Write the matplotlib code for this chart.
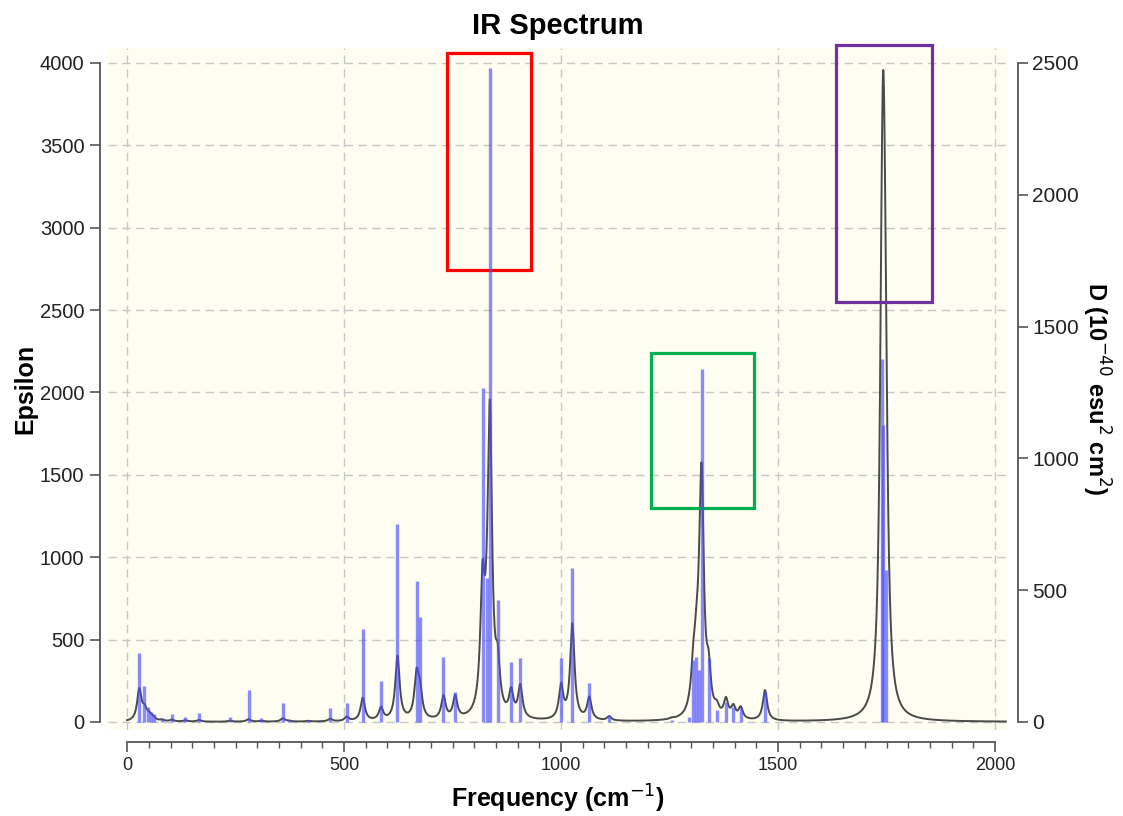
import matplotlib.pyplot as plt
import numpy as np
from matplotlib.patches import Rectangle
from matplotlib.ticker import MultipleLocator

plt.rcParams['font.family'] = ['Liberation Sans', 'DejaVu Sans']

# Stick spectrum: frequency (cm-1) and dipole strength D (10^-40 esu^2 cm^2)
freqs = [28, 40, 49, 55, 61, 80, 103, 134, 166, 237, 280, 309, 359, 373, 417,
         468, 506, 543, 585, 623, 667, 675, 729, 756, 819, 829, 836, 854, 885,
         906, 1000, 1026, 1065, 1111, 1255, 1296, 1305, 1312, 1319, 1324, 1340,
         1359, 1380, 1397, 1414, 1470, 1739, 1743, 1748]
dipole = [262, 136, 57, 38, 31, 15, 31, 19, 34, 19, 121, 15, 72, 8, 8,
          53, 72, 353, 156, 751, 535, 398, 247, 114, 1267, 546, 2481, 463, 228,
          243, 243, 584, 148, 26, 8, 19, 235, 247, 198, 1339, 243,
          46, 76, 57, 53, 114, 1375, 1127, 576]
# Epsilon height of each broadened band
band_eps = [190, 60, 25, 15, 12, 8, 10, 8, 10, 6, 15, 5, 20, 4, 4,
            15, 25, 140, 75, 390, 260, 150, 140, 135, 730, 150, 1780, 260, 150,
            195, 200, 580, 135, 25, 6, 15, 220, 250, 200, 1350, 230,
            50, 110, 70, 70, 185, 1400, 2330, 1100]

hwhm = 6.0  # half-width at half height, cm-1

freqs = np.array(freqs, dtype=float)
dipole = np.array(dipole, dtype=float)
band_eps = np.array(band_eps, dtype=float)

nu = np.linspace(0, 2025, 8000)
lor = hwhm**2 / ((nu[:, None] - freqs[None, :])**2 + hwhm**2)
epsilon = (lor * band_eps[None, :]).sum(axis=1)

fig = plt.figure(figsize=(11.23, 8.16), dpi=100)
ax = fig.add_axes([0.0962, 0.1054, 0.8014, 0.8358])
ax.set_facecolor('#fdfdf2')

ax.plot(nu, epsilon, color='#4a4a4a', lw=1.4, zorder=3)
ax.set_xlim(-44, 2030)
ax.set_ylim(-49, 4091)

ax.grid(True, color='#c8c8c8', linestyle=(0, (6, 4)), lw=1.0)
ax.set_axisbelow(True)
ax.xaxis.set_major_locator(MultipleLocator(500))
ax.xaxis.set_minor_locator(MultipleLocator(50))
ax.yaxis.set_major_locator(MultipleLocator(500))

for s in ['top', 'right']:
    ax.spines[s].set_visible(False)
ax.spines['left'].set_position(('outward', 6))
ax.spines['left'].set_bounds(0, 4000)
ax.spines['bottom'].set_position(('outward', 9))
ax.spines['bottom'].set_bounds(0, 2000)
for s in ['left', 'bottom']:
    ax.spines[s].set_color('#555555')
    ax.spines[s].set_linewidth(1.3)

ax.tick_params(axis='both', which='major', length=7, width=1.2, color='#555555',
               labelcolor='#222222')
ax.tick_params(axis='y', labelsize=14.5, pad=4)
ax.tick_params(axis='x', labelsize=13)
ax.tick_params(axis='x', which='minor', length=4, width=1.0, color='#555555')

ax.set_xlabel('Frequency (cm$^{-1}$)', fontsize=18, fontweight='bold', labelpad=6)
ax.set_ylabel('Epsilon', fontsize=18, fontweight='bold', labelpad=2)
ax.set_title('IR Spectrum', fontsize=21, fontweight='bold', pad=10)

# Sticks on the right-hand axis
ax2 = ax.twinx()
ax2.set_ylim(-49 * 0.625, 4091 * 0.625)
ax2.vlines(freqs, 0, dipole, color=(0.3, 0.3, 1.0, 0.65), lw=2.4, zorder=4)
for s in ['top', 'left', 'bottom']:
    ax2.spines[s].set_visible(False)
ax2.spines['right'].set_position(('outward', 7))
ax2.spines['right'].set_bounds(0, 2500)
ax2.spines['right'].set_color('#555555')
ax2.spines['right'].set_linewidth(1.3)
ax2.yaxis.set_major_locator(MultipleLocator(500))
ax2.tick_params(axis='y', length=7, width=1.2, color='#555555', labelsize=15,
                labelcolor='#222222')
ax2.set_ylabel('D (10$^{-40}$ esu$^{2}$ cm$^{2}$)', fontsize=17, fontweight='bold',
               rotation=270, labelpad=24)

# Highlight boxes
boxes = [(737, 2744, 194, 1317, '#ff0000'),
         (1207, 1299, 238, 941, '#00b050'),
         (1634, 2549, 221, 1560, '#7030a0')]
for x0, y0, w, h, c in boxes:
    ax.add_patch(Rectangle((x0, y0), w, h, fill=False, edgecolor=c, lw=2.3,
                           clip_on=False, zorder=10))

plt.savefig('out.png', dpi=100)
